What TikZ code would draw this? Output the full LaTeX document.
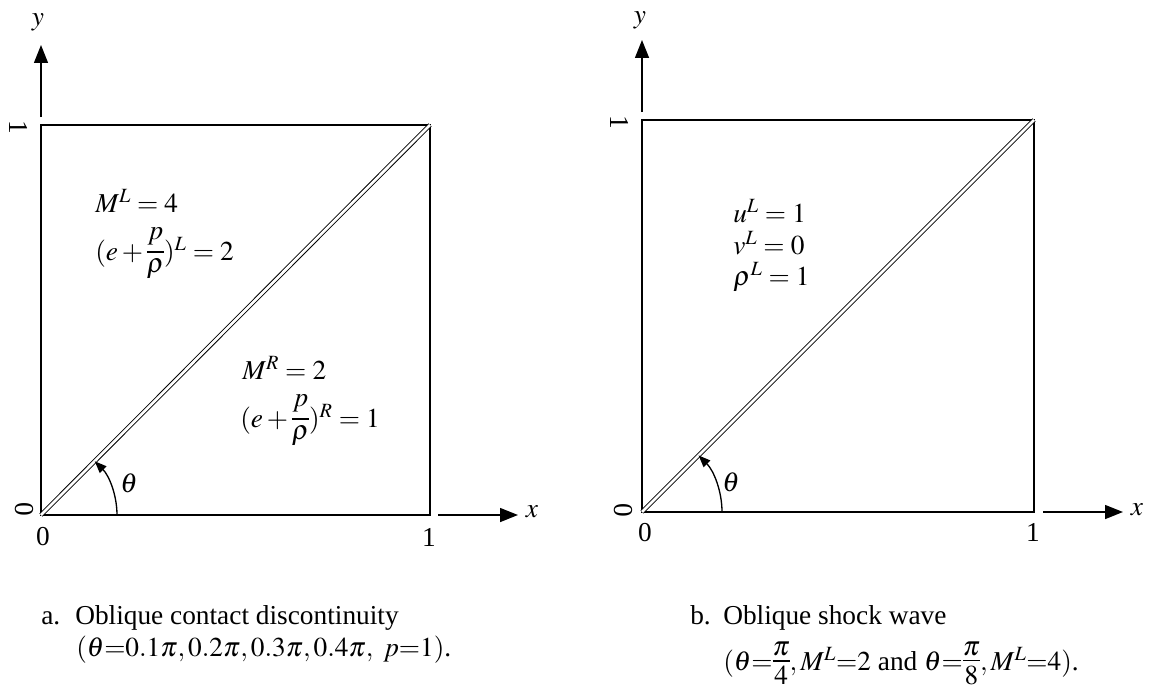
\documentclass[tikz,border=0pt]{standalone}
\usepackage{mathptmx}
\usepackage{fontspec}
\setmainfont{Liberation Serif}
\usetikzlibrary{arrows.meta}
\newcommand{\cfr}[3][3.5pt]{\mathord{\vcenter{\offinterlineskip\halign{\hfil$##$\hfil\cr #2\cr\noalign{\kern#1\hrule height0.8pt\kern#1}#3\cr}}}}
\begin{document}
\begin{tikzpicture}[x=0.75pt,y=-0.75pt,
  font=\fontsize{20.5}{24}\selectfont,
  box/.style={line width=1.4pt},
  axisarrow/.style={line width=1.1pt,-{Triangle[length=13.5pt,width=10.5pt]}},
  disc/.style={double,double distance=2pt,line width=0.7pt},
  angarrow/.style={line width=1pt,-{Triangle[length=9pt,width=7pt]}},
  lbl/.style={inner sep=0pt},
  txt/.style={inner sep=0pt,anchor=base west}]
\useasboundingbox (0,0) rectangle (1152,692);
% ---------- panel a ----------
\coordinate (O1) at (41,515);
\coordinate (X1) at (430,515);
\coordinate (T1) at (430,125);
\coordinate (Y1) at (41,125);
\draw[box] (O1) -- (X1) -- (T1) -- (Y1) -- cycle;
\draw[disc] (O1) -- (T1);
\coordinate (ya1) at (41,117);
\coordinate (yb1) at (41,45);
\draw[axisarrow] (ya1) -- (yb1);
\coordinate (xa1) at (438,515);
\coordinate (xb1) at (518,515);
\draw[axisarrow] (xa1) -- (xb1);
\coordinate (arcs1) at (117,515);
\draw[angarrow] (arcs1) arc[start angle=0,end angle=-45,radius=76];
\node[lbl] (ylab1) at (38,22) {$y$};
\node[lbl] (xlab1) at (532,512) {$x$};
\node[lbl,rotate=-90] (yone1) at (19,127) {1};
\node[lbl,rotate=-90] (yzero1) at (24,509) {0};
\node[lbl] (xzero1) at (43,537) {0};
\node[lbl] (xone1) at (429,537) {1};
\node[lbl] (th1) at (129,483) {$\theta$};
\node[txt] (ML1) at (95,212) {$M^{L}=4$};
\node[txt] (EL1) at (95,260) {$(e+\cfr[4.5pt]{p}{\rho})^{L}=2$};
\node[txt] (MR1) at (242,379) {$M^{R}=2$};
\node[txt] (ER1) at (240,427) {$(e+\cfr[4.5pt]{p}{\rho})^{R}=1$};
% ---------- panel b ----------
\coordinate (O2) at (642,512);
\coordinate (X2) at (1034,512);
\coordinate (T2) at (1034,120);
\coordinate (Y2) at (642,120);
\draw[box] (O2) -- (X2) -- (T2) -- (Y2) -- cycle;
\draw[disc] (O2) -- (T2);
\coordinate (ya2) at (642,112);
\coordinate (yb2) at (642,40);
\draw[axisarrow] (ya2) -- (yb2);
\coordinate (xa2) at (1043,512);
\coordinate (xb2) at (1123,512);
\draw[axisarrow] (xa2) -- (xb2);
\coordinate (arcs2) at (722,512);
\draw[angarrow] (arcs2) arc[start angle=0,end angle=-45,radius=80];
\node[lbl] (ylab2) at (640,20) {$y$};
\node[lbl] (xlab2) at (1137,510) {$x$};
\node[lbl,rotate=-90] (yone2) at (620,122) {1};
\node[lbl,rotate=-90] (yzero2) at (623,510) {0};
\node[lbl] (xzero2) at (645,533) {0};
\node[lbl] (xone2) at (1033,532) {1};
\node[lbl] (th2) at (731,482) {$\theta$};
\node[txt] (uL) at (733,222) {$u^{L}=1$};
\node[txt] (vL) at (733,254) {$v^{L}=0$};
\node[txt] (rL) at (733,285) {$\rho^{L}=1$};
% ---------- captions ----------
\node[txt] (capaL) at (41,624) {a.};
\node[txt] (capa1) at (75,624) {Oblique contact discontinuity};
\node[txt] (capa2) at (76,656) {$(\theta{=}0.1\pi,0.2\pi,0.3\pi,0.4\pi,\ p{=}1)$.};
\node[txt] (capbL) at (690,624) {b.};
\node[txt] (capb1) at (723,624) {Oblique shock wave};
\node[txt] (capb2) at (723,670) {$(\theta{=}\cfr{\pi}{4},M^{L}{=}2$ and $\theta{=}\cfr{\pi}{8},M^{L}{=}4)$.};
\end{tikzpicture}
\end{document}
